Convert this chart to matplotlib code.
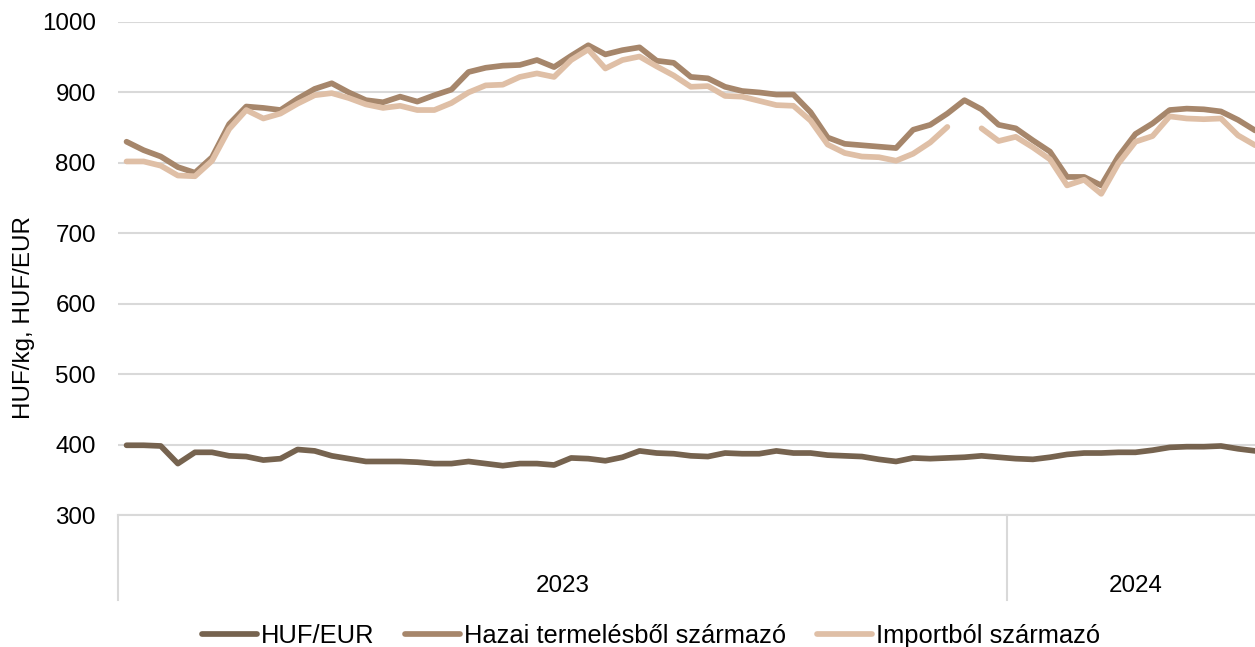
import matplotlib
matplotlib.use("Agg")
import matplotlib.pyplot as plt
import numpy as np

plt.rcParams['font.family'] = ['Liberation Sans', 'DejaVu Sans']

years = ["2023", "2024"]
weeks_per_year = [52, 15]

huf_eur = [399, 399, 398, 373, 389, 389, 384, 383, 378, 380,
           393, 391, 384, 380, 376, 376, 376, 375, 373, 373,
           376, 373, 370, 373, 373, 371, 381, 380, 377, 382,
           391, 388, 387, 384, 383, 388, 387, 387, 391, 388,
           388, 385, 384, 383, 379, 376, 381, 380, 381, 382,
           384, 382, 380, 379, 382, 386, 388, 388, 389, 389,
           392, 396, 397, 397, 398, 394, 391]

hazai = [830, 818, 809, 794, 786, 808, 855, 880, 878, 875,
         891, 905, 913, 900, 889, 886, 894, 887, 896, 904,
         929, 935, 938, 939, 946, 936, 952, 967, 954, 960,
         964, 945, 942, 922, 920, 908, 902, 900, 897, 897,
         872, 836, 827, 825, 823, 821, 847, 854, 870, 889,
         876, 854, 849, 832, 816, 780, 780, 768, 809, 841,
         856, 875, 877, 876, 873, 861, 846]

importbol = [802, 802, 796, 782, 781, 803, 848, 875, 863, 870,
             884, 896, 899, 892, 883, 878, 881, 875, 875, 885,
             900, 910, 911, 922, 927, 922, 946, 961, 934, 946,
             951, 937, 924, 908, 909, 895, 894, 888, 882, 881,
             860, 826, 814, 809, 808, 803, 813, 829, 851, None,
             849, 831, 837, 822, 805, 768, 776, 756, 799, 830,
             838, 866, 863, 862, 863, 839, 825]

labels = ["HUF/EUR", "Hazai termelésből származó", "Importból származó"]
colors = ["#76634f", "#a6866b", "#dfbfa6"]

W, H = 1255, 647
FS = 17.4
FS_LEG = 18.4
fig = plt.figure(figsize=(W / 100, H / 100), dpi=100)
left_px, right_px, top_px, bot_px = 118, 1263.7, 22, 515
ax = fig.add_axes([left_px / W, (H - bot_px) / H, (right_px - left_px) / W, (bot_px - top_px) / H])

n = len(huf_eur)
x = np.arange(n)
imp = np.array([np.nan if v is None else v for v in importbol], dtype=float)

lw = 4.1
for vals, c, lab in [(huf_eur, colors[0], labels[0]), (hazai, colors[1], labels[1]), (imp, colors[2], labels[2])]:
    ax.plot(x, vals, color=c, lw=lw, label=lab, solid_joinstyle='round', solid_capstyle='round')

ax.set_xlim(-0.5, n - 0.5)
ax.set_ylim(300, 1000)
ax.set_yticks(np.arange(300, 1001, 100))
ax.set_xticks([])
ax.yaxis.grid(True, color="#d9d9d9", lw=1.5)
ax.set_axisbelow(True)
for s in ["top", "right", "left"]:
    ax.spines[s].set_visible(False)
ax.spines["bottom"].set_color("#d9d9d9")
ax.spines["bottom"].set_linewidth(1.5)
ax.tick_params(axis='y', length=0, pad=16, labelsize=FS, labelcolor="#000000")

# category separators and year labels
trans = ax.get_xaxis_transform()
y_sep = (bot_px - 600) / (bot_px - top_px)
y_lab = (bot_px - 585.5) / (bot_px - top_px)
edges = np.concatenate([[0], np.cumsum(weeks_per_year)]) - 0.5
for e in edges:
    ax.plot([e, e], [0, y_sep], transform=trans, color="#d9d9d9", lw=1.5, clip_on=False)
for i, yr in enumerate(years):
    c = (edges[i] + edges[i + 1]) / 2
    ax.text(c, y_lab, yr, transform=trans, ha='center', va='center', fontsize=FS)

fig.text(24 / W, (H - 318) / H, "HUF/kg, HUF/EUR", rotation=90, ha='center', va='center', fontsize=FS)

leg = fig.legend(loc='center', bbox_to_anchor=(651 / W, (H - 636) / H), ncol=3, frameon=False,
                 fontsize=FS_LEG, handlelength=2.15, columnspacing=1.2, handletextpad=0.15)
for h in leg.get_lines():
    h.set_solid_capstyle('round')
    h.set_linewidth(lw)

fig.savefig("out.png", dpi=100)
